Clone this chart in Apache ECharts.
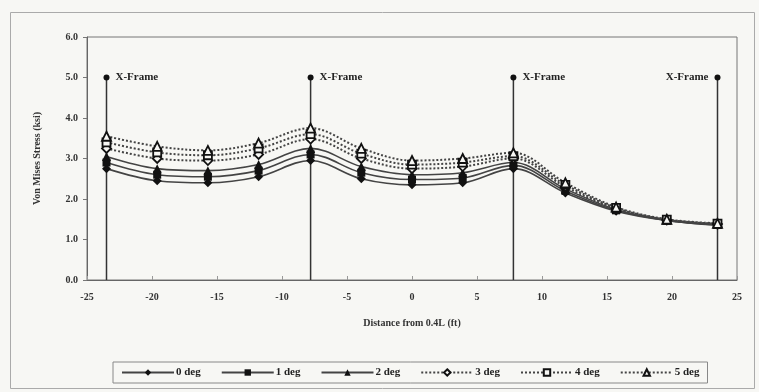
<!DOCTYPE html>
<html>
<head>
<meta charset="utf-8">
<script src="https://cdn.jsdelivr.net/npm/echarts@6/dist/echarts.min.js"></script>
<style>html,body{margin:0;padding:0;background:#f7f7f4;}#c{width:759px;height:392px;}</style>
</head>
<body>
<div id="c"></div>
<script>
// Distance from 0.4L (ft)
var distances = [-23.5, -19.6, -15.7, -11.8, -7.8, -3.9, 0, 3.9, 7.8, 11.8, 15.7, 19.6, 23.5];
// Von Mises stress (ksi) per skew angle
var deg0 = [2.75, 2.45, 2.40, 2.55, 2.95, 2.50, 2.35, 2.40, 2.75, 2.15, 1.70, 1.47, 1.35];
var deg1 = [2.90, 2.60, 2.55, 2.70, 3.10, 2.65, 2.48, 2.52, 2.83, 2.20, 1.72, 1.47, 1.36];
var deg2 = [3.05, 2.75, 2.70, 2.85, 3.25, 2.80, 2.60, 2.65, 2.90, 2.25, 1.74, 1.48, 1.37];
var deg3 = [3.25, 3.00, 2.95, 3.10, 3.48, 3.00, 2.75, 2.80, 3.00, 2.30, 1.76, 1.48, 1.38];
var deg4 = [3.40, 3.15, 3.08, 3.25, 3.60, 3.12, 2.85, 2.90, 3.06, 2.35, 1.78, 1.49, 1.39];
var deg5 = [3.55, 3.30, 3.20, 3.38, 3.75, 3.25, 2.95, 3.00, 3.14, 2.40, 1.80, 1.50, 1.40];
var seriesNames = ['0 deg', '1 deg', '2 deg', '3 deg', '4 deg', '5 deg'];
// X-Frame locations and marker height
var xFrames = [-23.5, -7.8, 7.8, 23.5];
var xFrameTop = 5.0;
var xTicks = { min: -25, max: 25, interval: 5 };
var yTicks = { min: 0, max: 6, interval: 1 };

var allValues = [deg0, deg1, deg2, deg3, deg4, deg5];
var symbols = ['diamond', 'rect', 'triangle', 'diamond', 'rect', 'triangle'];
var hollow = [false, false, false, true, true, true];
var font = 'Liberation Serif';

function pairs(vals) { return distances.map(function (d, i) { return [d, vals[i]]; }); }

var series = allValues.map(function (vals, i) {
  return {
    name: seriesNames[i],
    type: 'line',
    smooth: 0.35,
    data: pairs(vals),
    symbol: symbols[i],
    symbolSize: symbols[i] === 'rect' ? 8 : 9,
    showAllSymbol: true,
    lineStyle: { color: '#444', width: hollow[i] ? 2 : 1.6, type: hollow[i] ? 'dotted' : 'solid' },
    itemStyle: { color: hollow[i] ? '#f7f7f4' : '#111', borderColor: '#111', borderWidth: hollow[i] ? 1.8 : 0 },
    z: 3
  };
});

xFrames.forEach(function (x, k) {
  series.push({
    name: 'xf' + k,
    type: 'line',
    data: [{ value: [x, 0], symbol: 'none' }, { value: [x, xFrameTop], symbol: 'circle', symbolSize: 6,
      label: { show: true, position: k === xFrames.length - 1 ? 'left' : 'right', distance: 6, formatter: 'X-Frame',
        color: '#222', fontFamily: font, fontWeight: 'bold', fontSize: 11 } }],
    lineStyle: { color: '#333', width: 1.5 },
    itemStyle: { color: '#111' },
    z: 2,
    silent: true
  });
});

var chart = echarts.init(document.getElementById('c'), null, { renderer: 'canvas' });
chart.setOption({
  backgroundColor: '#f7f7f4',
  animation: false,
  grid: { left: 87, top: 37, width: 650, height: 243, show: true, borderColor: '#777', borderWidth: 1 },
  xAxis: {
    type: 'value', min: xTicks.min, max: xTicks.max, interval: xTicks.interval,
    name: 'Distance from 0.4L (ft)', nameLocation: 'middle', nameGap: 38,
    nameTextStyle: { fontFamily: font, fontWeight: 'bold', fontSize: 10, color: '#333' },
    axisLine: { onZero: false, lineStyle: { color: '#666' } },
    axisTick: { inside: true, length: 4, lineStyle: { color: '#999' } },
    axisLabel: { fontFamily: font, fontWeight: 'bold', fontSize: 10, color: '#333', margin: 12 },
    splitLine: { show: false }
  },
  yAxis: {
    type: 'value', min: yTicks.min, max: yTicks.max, interval: yTicks.interval,
    name: 'Von Mises Stress (ksi)', nameLocation: 'middle', nameGap: 45,
    nameTextStyle: { fontFamily: font, fontWeight: 'bold', fontSize: 10, color: '#333' },
    axisLine: { show: true, onZero: false, lineStyle: { color: '#666' } },
    axisTick: { show: true, length: 4, lineStyle: { color: '#777' } },
    axisLabel: { fontFamily: font, fontWeight: 'bold', fontSize: 10, color: '#333', margin: 9,
      formatter: function (v) { return v.toFixed(1); } },
    splitLine: { show: false }
  },
  legend: {
    data: seriesNames,
    left: 113, top: 362,
    borderColor: '#888', borderWidth: 1, borderRadius: 0,
    padding: [5, 8, 5, 8],
    itemWidth: 52, itemHeight: 8, itemGap: 20,
    textStyle: { fontFamily: font, fontWeight: 'bold', fontSize: 11, color: '#222', padding: [0, 0, 0, -3] }
  },
  graphic: [{
    type: 'rect', left: 8, top: 10, shape: { width: 744, height: 376 },
    style: { fill: 'none', stroke: '#aaa', lineWidth: 1 }, silent: true
  }],
  series: series
});
</script>
</body>
</html>
